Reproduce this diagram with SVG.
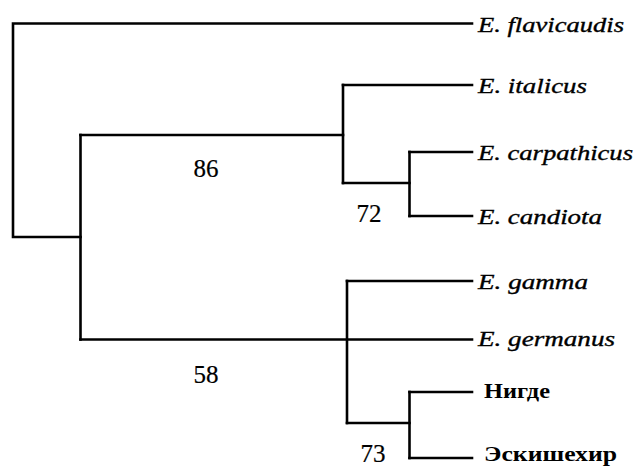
<svg xmlns="http://www.w3.org/2000/svg" width="636" height="467" viewBox="0 0 636 467">
<style>
.b{fill:none;stroke:#000;stroke-width:2.6;stroke-linecap:square}
.sp{font-family:"Liberation Serif","Times New Roman",serif;font-style:italic;font-size:21px;fill:#000;stroke:#000;stroke-width:0.35}
.cy{font-family:"Liberation Serif","Times New Roman",serif;font-weight:bold;font-size:22px;fill:#000}
.n{font-family:"Liberation Serif","Times New Roman",serif;font-size:25px;fill:#000;text-anchor:middle;stroke:#000;stroke-width:0.2}
</style>
<rect width="636" height="467" fill="#fff"/>
<g id="connectors">
<path class="b" d="M472,23.5 H13 V237 H80.5"/>
<path class="b" d="M80.5,135 V339.5"/>
<path class="b" d="M80.5,135 H343"/>
<path class="b" d="M343,85 V183"/>
<path class="b" d="M343,85 H472"/>
<path class="b" d="M343,183 H409.5"/>
<path class="b" d="M409.5,152 V216"/>
<path class="b" d="M409.5,152 H472"/>
<path class="b" d="M409.5,216 H472"/>
<path class="b" d="M80.5,339.5 H472"/>
<path class="b" d="M347,281 V423"/>
<path class="b" d="M347,281 H472"/>
<path class="b" d="M347,423 H409.5"/>
<path class="b" d="M409.5,392 V458"/>
<path class="b" d="M409.5,392 H472"/>
<path class="b" d="M409.5,458 H472"/>
</g>
<g id="flavicaudis"><text class="sp" x="478" y="32" textLength="146" lengthAdjust="spacingAndGlyphs">E. flavicaudis</text></g>
<g id="italicus"><text class="sp" x="478" y="93" textLength="109" lengthAdjust="spacingAndGlyphs">E. italicus</text></g>
<g id="carpathicus"><text class="sp" x="478" y="160" textLength="155" lengthAdjust="spacingAndGlyphs">E. carpathicus</text></g>
<g id="candiota"><text class="sp" x="478" y="224" textLength="124" lengthAdjust="spacingAndGlyphs">E. candiota</text></g>
<g id="gamma"><text class="sp" x="478" y="289" textLength="110" lengthAdjust="spacingAndGlyphs">E. gamma</text></g>
<g id="germanus"><text class="sp" x="478" y="346" textLength="137" lengthAdjust="spacingAndGlyphs">E. germanus</text></g>
<g id="nigde"><text class="cy" x="484" y="398" textLength="66" lengthAdjust="spacingAndGlyphs">Нигде</text></g>
<g id="eskishehir"><text class="cy" x="484" y="461" textLength="133" lengthAdjust="spacingAndGlyphs">Эскишехир</text></g>
<g id="bootstrap">
<text class="n" x="206" y="177">86</text>
<text class="n" x="369" y="222">72</text>
<text class="n" x="206" y="383">58</text>
<text class="n" x="373" y="462">73</text>
</g>
</svg>
